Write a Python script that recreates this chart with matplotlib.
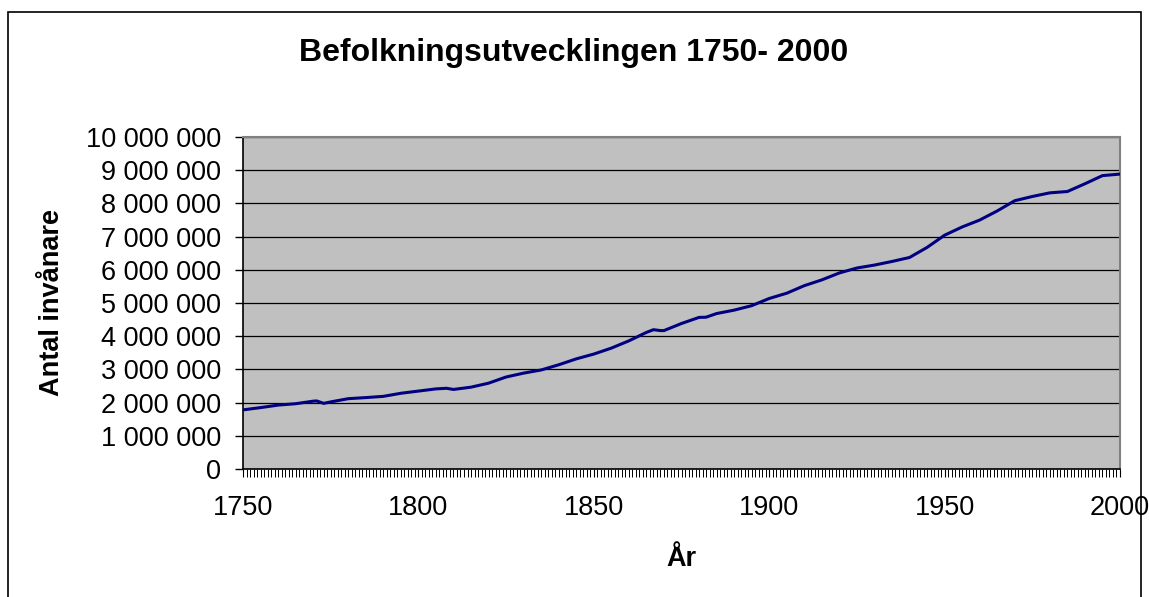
import numpy as np
import matplotlib.pyplot as plt
from matplotlib.patches import Rectangle
from matplotlib.ticker import MultipleLocator, FuncFormatter

plt.rcParams['font.family'] = ['Liberation Sans', 'DejaVu Sans']

# population of Sweden
years = [1750, 1755, 1760, 1765, 1770, 1771, 1773, 1775, 1780, 1785, 1790,
         1795, 1800, 1805, 1808, 1810, 1815, 1820, 1825, 1830, 1835, 1840,
         1845, 1850, 1855, 1860, 1865, 1867, 1869, 1870, 1875, 1880, 1882,
         1885, 1890, 1895, 1900, 1905, 1910, 1915, 1920, 1925, 1930, 1935,
         1940, 1945, 1950, 1955, 1960, 1965, 1970, 1975, 1980, 1985, 1990,
         1995, 2000]
pop = [1781000, 1849000, 1925000, 1966000, 2043000, 2050000, 1977000,
       2021000, 2118000, 2151000, 2188000, 2281000, 2347000, 2413000,
       2431000, 2396000, 2465000, 2585000, 2771000, 2888000, 2983000,
       3139000, 3317000, 3462000, 3641000, 3860000, 4114000, 4196000,
       4169000, 4169000, 4383000, 4566000, 4572000, 4682000, 4785000,
       4919000, 5136000, 5295000, 5522000, 5696000, 5905000, 6054000,
       6142000, 6251000, 6371000, 6674000, 7042000, 7290000, 7498000,
       7773000, 8081000, 8208000, 8318000, 8358000, 8591000, 8837000,
       8883000]

fig = plt.figure(figsize=(11.49, 5.97), dpi=100)
fig.patches.append(Rectangle((8/1149, -0.05), (1141-8)/1149, 1.05-12/597,
                             transform=fig.transFigure, fill=False,
                             edgecolor='black', linewidth=1.2))

ax = fig.add_axes([243/1149, 128/597, 877/1149, 332/597])
ax.set_facecolor('#c0c0c0')
ax.plot(years, pop, color='#000080', linewidth=2.2, zorder=3)

ax.set_xlim(1750, 2000)
ax.set_ylim(0, 10000000)
ax.xaxis.set_major_locator(MultipleLocator(50))
ax.xaxis.set_minor_locator(MultipleLocator(1))
ax.yaxis.set_major_locator(MultipleLocator(1000000))
ax.yaxis.set_major_formatter(FuncFormatter(lambda v, p: f"{int(v):,}".replace(",", " ")))

ax.grid(axis='y', color='black', linewidth=0.9)
ax.tick_params(axis='y', direction='out', length=6, width=1, labelsize=19.5, pad=10)
ax.tick_params(axis='x', which='major', direction='out', length=6, width=0.8, labelsize=19.5, pad=13)
ax.tick_params(axis='x', which='minor', direction='out', length=6, width=0.7)

for s in ['top', 'right']:
    ax.spines[s].set_color('#808080')
    ax.spines[s].set_linewidth(1.5)
for s in ['left', 'bottom']:
    ax.spines[s].set_color('black')
    ax.spines[s].set_linewidth(1.2)

ax.set_xlabel('År', fontsize=19.5, fontweight='bold', labelpad=18)
ax.set_ylabel('Antal invånare', fontsize=19.5, fontweight='bold', labelpad=15)
fig.text(574/1149, 1 - 53/597, 'Befolkningsutvecklingen 1750- 2000',
         fontsize=23, fontweight='bold', ha='center', va='center')

fig.savefig('out.png', dpi=100)
